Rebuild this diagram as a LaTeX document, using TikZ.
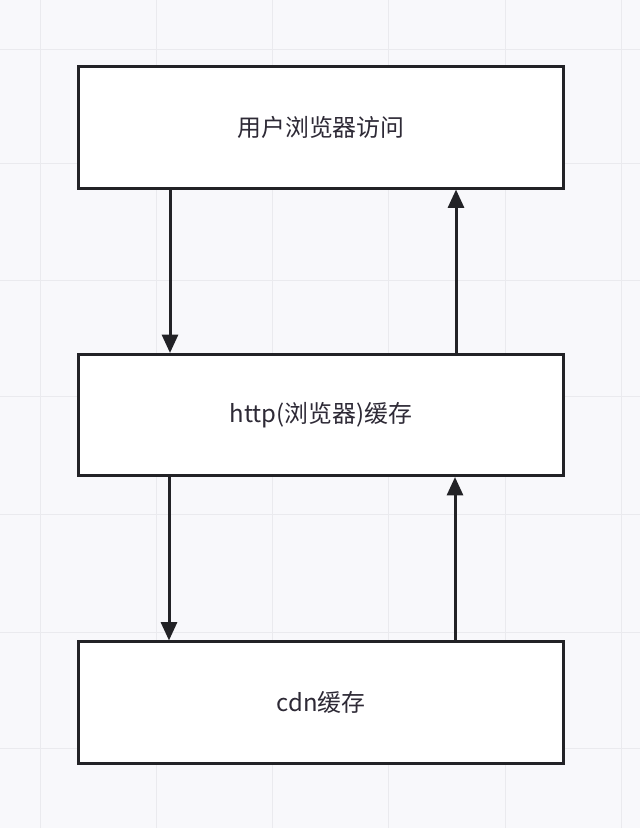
\documentclass[tikz,border=0pt]{standalone}
\usepackage{fontspec}
\newfontfamily\cjk{Noto Sans CJK SC}
\usetikzlibrary{arrows.meta}
\definecolor{pagebg}{HTML}{F8F8FB}
\definecolor{gridgray}{HTML}{EAEAEE}
\definecolor{inkdark}{HTML}{222226}
\definecolor{textdark}{HTML}{2E2A36}
\tikzset{
  cachebox/.style={draw=inkdark, line width=0.075cm, fill=white,
    minimum width=12.125cm, minimum height=3.025cm, inner sep=0pt,
    font=\cjk\fontsize{17}{20}\selectfont, text=textdark},
  flow/.style={draw=inkdark, line width=0.075cm,
    -{Triangle[length=0.46cm, width=0.4cm]}},
  gridline/.style={draw=gridgray, line width=0.6pt}
}
\begin{document}
\begin{tikzpicture}[x=0.025cm, y=-0.025cm]
\useasboundingbox (0,0) rectangle (640,828);
\fill[pagebg] (0,0) rectangle (640,828);
\foreach \gx in {40,156,272,388,505,621}
  \draw[gridline] (\gx,0) -- (\gx,828);
\foreach \gy in {49,163,280,396,514,632,748}
  \draw[gridline] (0,\gy) -- (640,\gy);

\node[cachebox] (user) at (321,127.5) {用户浏览器访问};
\node[cachebox] (http) at (321,415) {http(浏览器)缓存};
\node[cachebox] (cdn)  at (321,702.5) {cdn缓存};

\coordinate (down1) at (170,0);
\coordinate (up1)   at (456,0);
\coordinate (down2) at (169,0);
\coordinate (up2)   at (455,0);

\draw[flow] (user.south -| down1) -- (http.north -| down1);
\draw[flow] (http.north -| up1) -- (user.south -| up1);
\draw[flow] (http.south -| down2) -- (cdn.north -| down2);
\draw[flow] (cdn.north -| up2) -- (http.south -| up2);
\end{tikzpicture}
\end{document}
